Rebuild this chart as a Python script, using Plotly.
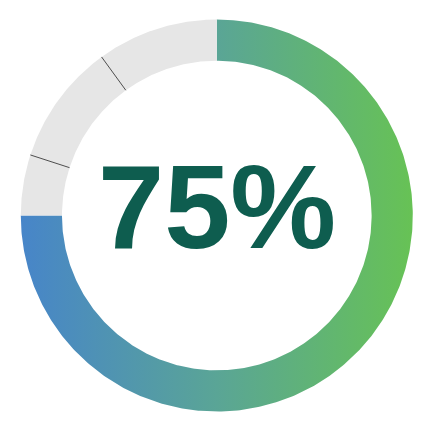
import numpy as np
import plotly.graph_objects as go

# data
percent = 75
remaining_parts = [5, 10, 10]          # grey pieces of the ring, clockwise after the coloured arc
label = f"{percent}%"

gradient_colors = [[0, "#4785c9"], [0.5, "#5aa596"], [1, "#67c255"]]
grey = "#e6e6e6"
text_color = "#0e5d4f"

R_OUT = 1.0
R_IN = 0.79


def ring_piece(start_pct, end_pct, steps=200):
    # angles measured clockwise from 12 o'clock
    a = np.radians(90 - 3.6 * np.linspace(start_pct, end_pct, steps))
    xs = np.concatenate([R_OUT * np.cos(a), R_IN * np.cos(a[::-1])])
    ys = np.concatenate([R_OUT * np.sin(a), R_IN * np.sin(a[::-1])])
    return np.append(xs, xs[0]), np.append(ys, ys[0])


fig = go.Figure()

# coloured arc with horizontal gradient
x, y = ring_piece(0, percent, 400)
fig.add_trace(go.Scatter(
    x=x, y=y, mode="lines", fill="toself", line=dict(width=0),
    fillgradient=dict(type="horizontal", colorscale=gradient_colors, start=-R_OUT, stop=R_OUT),
    hoverinfo="skip", showlegend=False))

# grey remainder pieces
pos = percent
bounds = []
for part in remaining_parts:
    x, y = ring_piece(pos, pos + part, 100)
    fig.add_trace(go.Scatter(x=x, y=y, mode="lines", fill="toself", fillcolor=grey,
                             line=dict(width=0), hoverinfo="skip", showlegend=False))
    pos += part
    bounds.append(pos)

# thin separators between grey pieces
for b in bounds[:-1]:
    a = np.radians(90 - 3.6 * b)
    fig.add_trace(go.Scatter(x=[R_IN * np.cos(a), R_OUT * np.cos(a)],
                             y=[R_IN * np.sin(a), R_OUT * np.sin(a)],
                             mode="lines", line=dict(color="#4d4d4d", width=1),
                             hoverinfo="skip", showlegend=False))

fig.add_annotation(x=0, y=0.048, text=f"<b>{label}</b>", showarrow=False,
                   font=dict(family="Liberation Sans, Arial", size=119, color=text_color),
                   xanchor="center", yanchor="middle")

# the page body adds an 8px offset, so the ring centre is placed 8px up/left
fig.update_xaxes(range=[-1.0653, 1.1388], visible=False, fixedrange=True)
fig.update_yaxes(range=[-1.1454, 1.0587], visible=False, fixedrange=True)
fig.update_layout(width=432, height=432, margin=dict(l=0, r=0, t=0, b=0),
                  paper_bgcolor="white", plot_bgcolor="white")

fig.write_html("out.html")
